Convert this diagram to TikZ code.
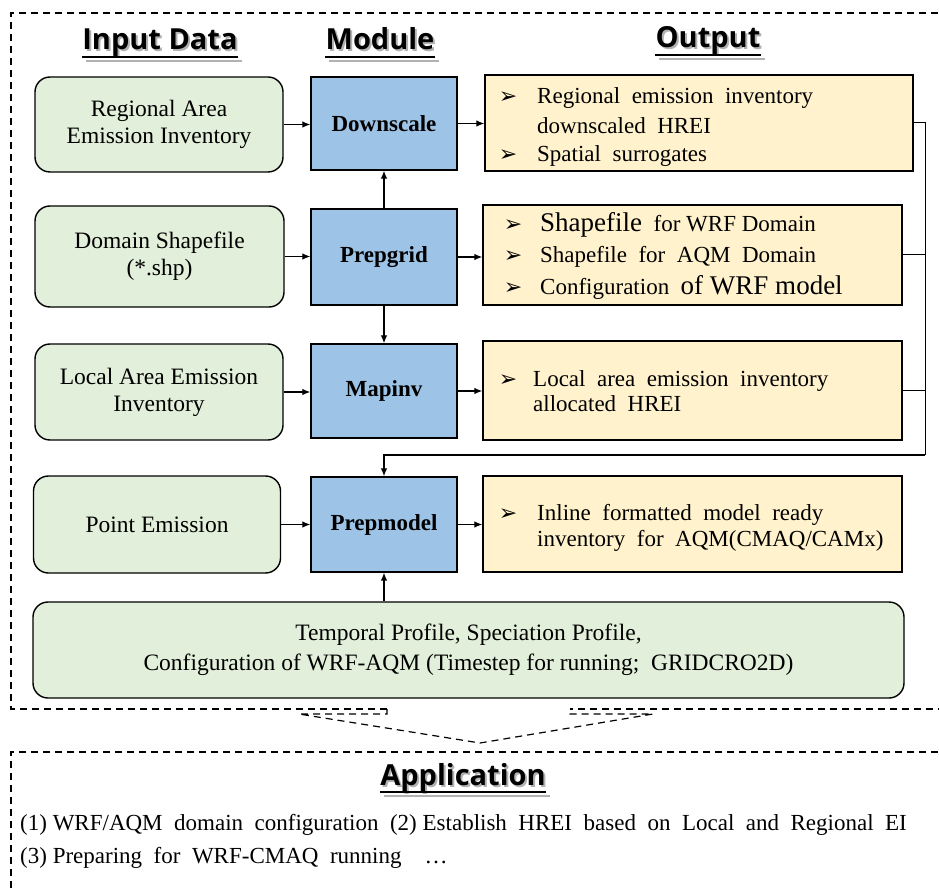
\documentclass[tikz,border=0pt]{standalone}
\usepackage{fontspec}
\setmainfont{Liberation Serif}
\newfontfamily\headfont{Open Sans}
\newfontfamily\symfont{DejaVu Sans}
\usetikzlibrary{arrows.meta}

\definecolor{ingreen}{HTML}{E2EFDA}
\definecolor{modblue}{HTML}{9DC3E6}
\definecolor{outyellow}{HTML}{FFF2CC}

\tikzset{
  inbox/.style={draw=black, line width=1.4pt, fill=ingreen, rounded corners=15pt,
    align=center, font=\fontsize{23.5}{27}\selectfont, inner sep=0pt},
  modbox/.style={draw=black, line width=1.4pt, fill=modblue,
    font=\fontsize{23}{27}\selectfont\bfseries, inner sep=0pt},
  outbox/.style={draw=black, line width=1.4pt, fill=outyellow, inner sep=0pt},
  outtext/.style={anchor=base west, inner sep=0pt, font=\fontsize{23}{27}\selectfont},
  bullet/.style={anchor=base, inner sep=0pt, font=\symfont\fontsize{22}{24}\selectfont},
  conn/.style={line width=1.1pt, -{Latex[length=8pt,width=6.5pt]}},
  wire/.style={line width=1pt},
  frame/.style={line width=1.2pt, dash pattern=on 7pt off 5pt},
  headtext/.style={anchor=base, inner sep=0pt, font=\headfont\bfseries\fontsize{29}{32}\selectfont},
  headshadow/.style={headtext, text=black!30},
  uline/.style={line width=1.6pt},
  ushadow/.style={line width=1.6pt, draw=black!30},
  apptext/.style={anchor=base west, inner sep=0pt, font=\fontsize{23}{27}\selectfont},
}

\begin{document}
\begin{tikzpicture}[x=1pt, y=-1pt]
\useasboundingbox (0,0) rectangle (939,890);

% dashed frames and the dashed arrow between them
\draw[frame] (387,709) -- (11,709) -- (11,13) -- (950,13) -- (950,709) -- (570,709);
\draw[frame] (387,709) -- (387,714) -- (299,714) -- (480,743) -- (653,714) -- (570,714) -- (570,709);
\draw[frame] (950,752) -- (11,752) -- (11,900);

% column headings with a soft drop shadow
\foreach \nm/\tx/\xx/\yy in {hin/Input Data/160/50, hmod/Module/380/50, hout/Output/708/48, happ/Application/463/785}{
  \node[headshadow] (\nm s) at (\xx+2,\yy+2) {\tx};
  \draw[ushadow] ([xshift=2pt,yshift=-9pt]\nm s.base west) -- ([xshift=2pt,yshift=-9pt]\nm s.base east);
  \node[headtext] (\nm) at (\xx,\yy) {\tx};
  \draw[uline] ([yshift=-7pt]\nm.base west) -- ([yshift=-7pt]\nm.base east);
}

% input data
\node[inbox, minimum width=248pt, minimum height=95pt] (reg) at (159,124.5) {Regional Area\\Emission Inventory};
\node[inbox, minimum width=249pt, minimum height=101pt] (dom) at (159.5,256.5) {Domain Shapefile\\(*.shp)};
\node[inbox, minimum width=248pt, minimum height=96pt] (loc) at (159,392) {Local Area Emission\\Inventory};
\node[inbox, minimum width=247pt, minimum height=97pt] (pnt) at (157,524.5) {Point Emission};
\node[inbox, minimum width=871pt, minimum height=96pt, font=\fontsize{23.5}{30}\selectfont] (prof) at (468.5,650)
  {Temporal Profile, Speciation Profile,\\Configuration of WRF-AQM (Timestep for running;\ \ GRIDCRO2D)};

% modules
\node[modbox, minimum width=146pt, minimum height=93pt] (down) at (384,123.5) {Downscale};
\node[modbox, minimum width=146pt, minimum height=96pt] (grid) at (384,257) {Prepgrid};
\node[modbox, minimum width=146pt, minimum height=94pt] (mapi) at (384,391) {Mapinv};
\node[modbox, minimum width=146pt, minimum height=95pt] (prepm) at (384,524.5) {Prepmodel};

% outputs
\node[outbox, minimum width=428pt, minimum height=96pt] (out1) at (699,123) {};
\node[outbox, minimum width=419pt, minimum height=100pt] (out2) at (692.5,255) {};
\node[outbox, minimum width=419pt, minimum height=99pt] (out3) at (692.5,390.5) {};
\node[outbox, minimum width=419pt, minimum height=96pt] (out4) at (692.5,524) {};

\node[bullet] (b1a) at (508,104) {➢};
\node[outtext] (t1a) at (537,104) {Regional\ \ emission\ \ inventory};
\node[outtext] (t1b) at (537,134) {downscaled\ \ HREI};
\node[bullet] (b1c) at (508,162) {➢};
\node[outtext] (t1c) at (537,162) {Spatial\ \ surrogates};

\node[bullet] (b2a) at (513,232) {➢};
\node[outtext] (t2a) at (540,232) {{\fontsize{27}{30}\selectfont Shapefile}\ \ for WRF Domain};
\node[bullet] (b2b) at (513,263) {➢};
\node[outtext] (t2b) at (540,263) {Shapefile\ \ for\ \ AQM\ \ Domain};
\node[bullet] (b2c) at (513,295) {➢};
\node[outtext] (t2c) at (540,295) {Configuration\ \ {\fontsize{27}{30}\selectfont of WRF model}};

\node[bullet] (b3a) at (508,386) {➢};
\node[outtext] (t3a) at (533,386) {Local\ \ area\ \ emission\ \ inventory};
\node[outtext] (t3b) at (533,411) {allocated\ \ HREI};

\node[bullet] (b4a) at (508,520) {➢};
\node[outtext] (t4a) at (537,520) {Inline\ \ formatted\ \ model\ \ ready};
\node[outtext] (t4b) at (537,546) {inventory\ \ for\ \ AQM(CMAQ/CAMx)};

% connectors
\draw[conn] (reg.east) -- (reg.east -| down.west);
\draw[conn] (dom.east) -- (dom.east -| grid.west);
\draw[conn] (loc.east) -- (loc.east -| mapi.west);
\draw[conn] (pnt.east) -- (pnt.east -| prepm.west);
\draw[conn] (down.east) -- (down.east -| out1.west);
\draw[conn] (grid.east) -- (grid.east -| out2.west);
\draw[conn] (mapi.east) -- (mapi.east -| out3.west);
\draw[conn] (prepm.east) -- (prepm.east -| out4.west);
\draw[conn] (grid.north) -- (down.south);
\draw[conn] (grid.south) -- (mapi.north);
\draw[conn] (prof.north -| prepm.south) -- (prepm.south);

\coordinate (bus) at (925,455);
\draw[wire] (out1.east) -| (bus);
\draw[wire] (out2.east) -- (out2.east -| bus);
\draw[wire] (out3.east) -- (out3.east -| bus);
\draw[conn] (bus) -| (prepm.north);

% application list
\node[apptext] (app1) at (20,830) {(1) WRF/AQM\ \ domain\ \ configuration\ \ (2) Establish\ \ HREI\ \ based\ \ on\ \ Local\ \ and\ \ Regional\ \ EI};
\node[apptext] (app2) at (20,863) {(3) Preparing\ \ for\ \ WRF-CMAQ\ \ running\ \ \ \ …};
\end{tikzpicture}
\end{document}
